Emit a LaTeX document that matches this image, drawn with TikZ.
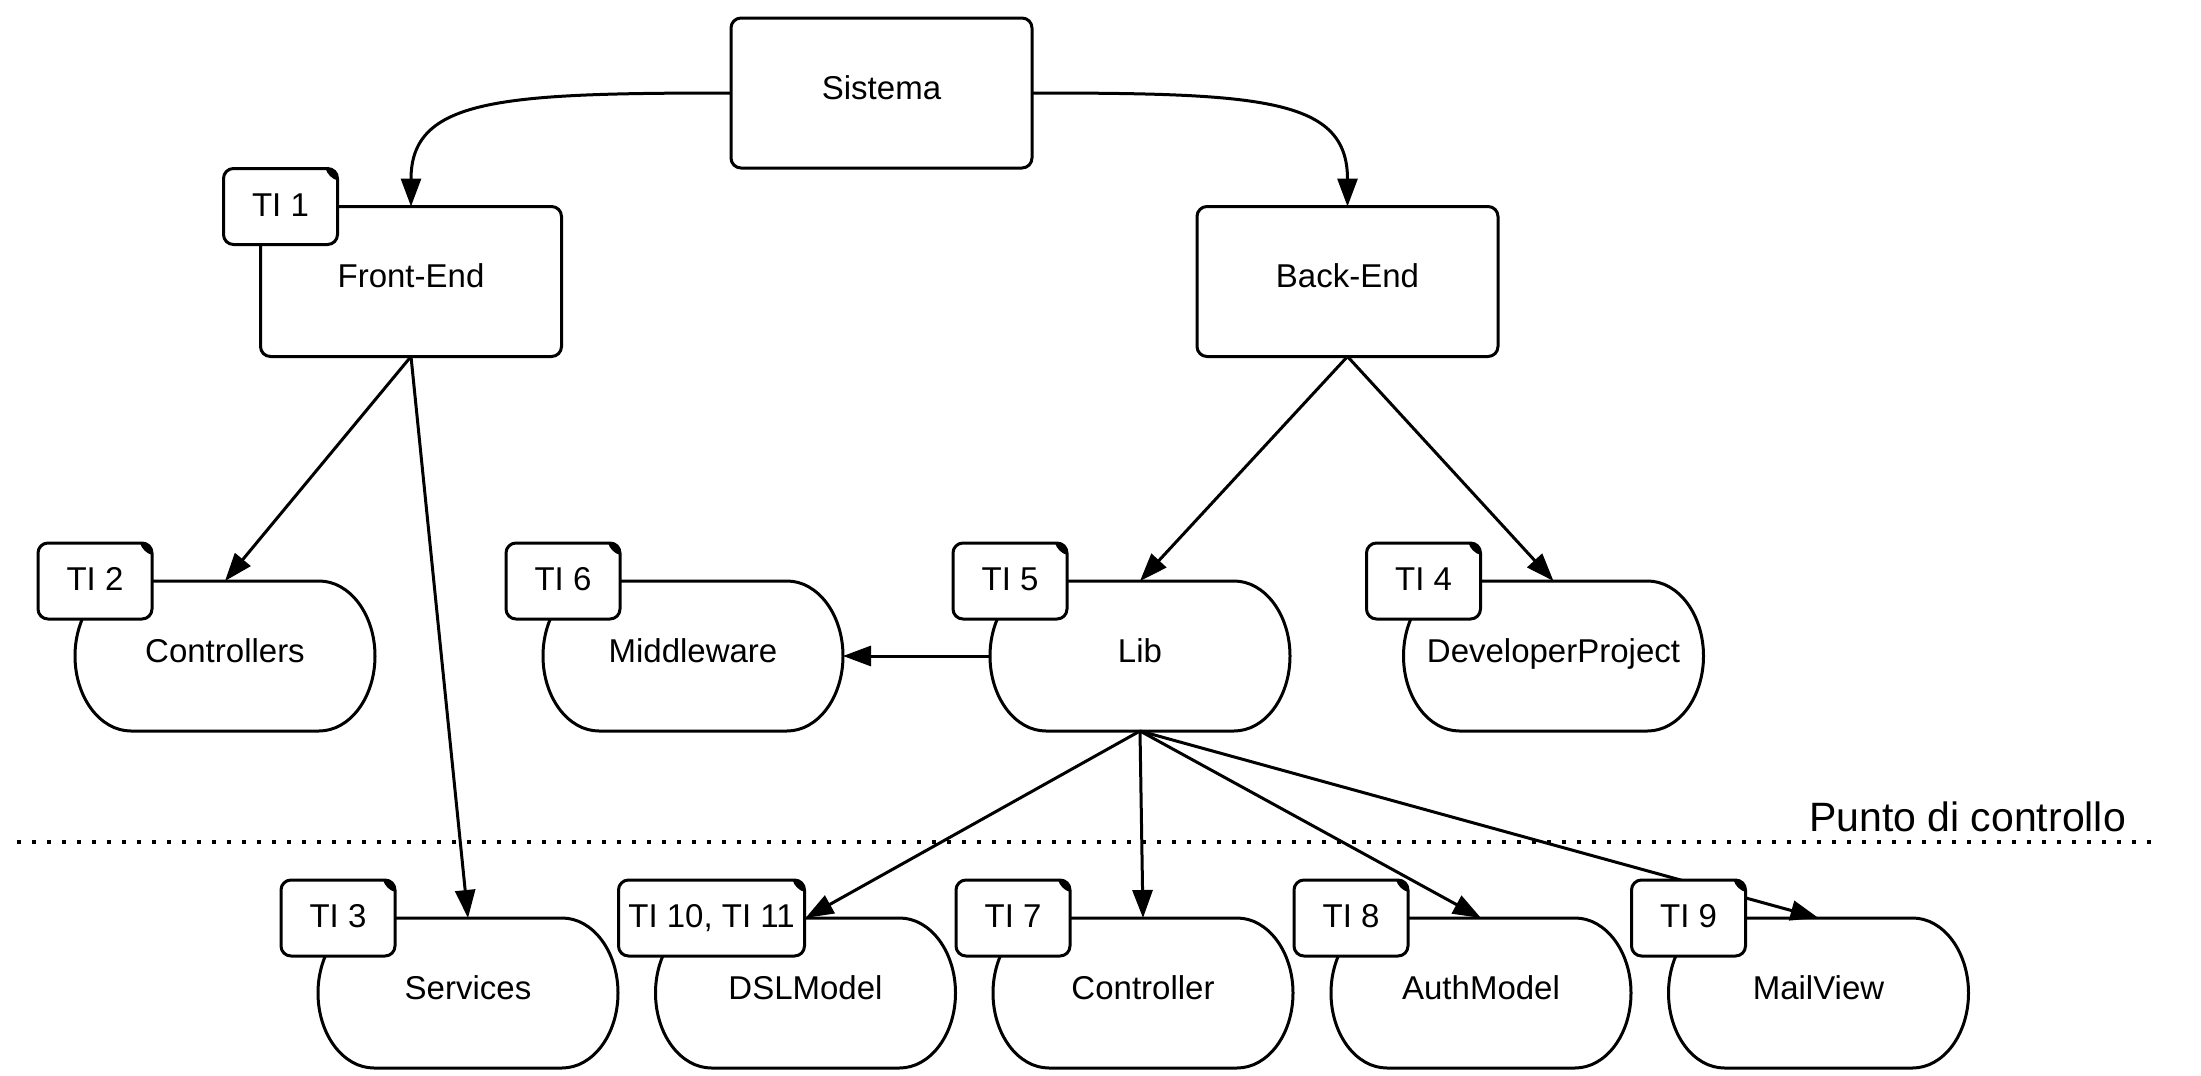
\documentclass[tikz,border=0pt]{standalone}
\usepackage{fontspec}
\setmainfont{Liberation Sans}
\usetikzlibrary{arrows.meta,calc}
\newcommand{\mainfs}{\fontsize{33}{40}\selectfont}
\newcommand{\drumpath}[1]{%
  \draw[lw] ($(#1.north west)+(56,0)$) -- ($(#1.north east)+(-56,0)$)
    .. controls +(30.9,0) and +(0,-41.4) .. (#1.east)
    .. controls +(0,41.4) and +(30.9,0) .. ($(#1.south east)+(-56,0)$)
    -- ($(#1.south west)+(56,0)$)
    .. controls +(-30.9,0) and +(0,41.4) .. (#1.west)
    .. controls +(0,-41.4) and +(-30.9,0) .. ($(#1.north west)+(56,0)$) -- cycle;}
\newcommand{\foldmark}[1]{%
  \fill ($(#1.north east)+(-12,0)$) -- ($(#1.north east)+(-10,0)$)
   .. controls +(5.52,0) and +(0,-5.52) .. ($(#1.north east)+(0,10)$)
   -- ($(#1.north east)+(0,12)$)
   .. controls +(-6,-2) and +(2,6) .. ($(#1.north east)+(-12,0)$) -- cycle;}
\tikzset{
  lw/.style={line width=3pt},
  rectbox/.style={draw, lw, fill=white, rounded corners=10pt, minimum width=301pt,
    minimum height=150pt, inner sep=0pt, outer sep=0pt, font=\mainfs,
    text height=22pt, text depth=10pt},
  drumnode/.style={minimum width=300pt, minimum height=150pt, inner sep=0pt,
    outer sep=0pt, font=\mainfs, text height=22pt, text depth=10pt},
  tabbox/.style={draw, lw, fill=white, rounded corners=10pt, minimum width=114pt,
    minimum height=76pt, inner sep=0pt, outer sep=0pt, font=\mainfs,
    text height=25pt, text depth=6pt, anchor=west},
  conn/.style={lw, -{Triangle[length=28pt,width=20pt]}},
  dotline/.style={line width=3.5pt, dash pattern=on 3.5pt off 11.5pt},
}
\begin{document}
\begin{tikzpicture}[x=1pt,y=-1pt]
\useasboundingbox[fill=white] (0,0) rectangle (2201,1076);

% main boxes
\node[rectbox] (sis) at (881.5,93) {Sistema};
\node[rectbox] (fe) at (411,281.5) {Front-End};
\node[rectbox] (be) at (1347.5,281.5) {Back-End};

% drum shapes
\node[drumnode] (ctrls) at (225,656) {Controllers};
\node[drumnode] (mw) at (693,656) {Middleware};
\node[drumnode] (lib) at (1140,656) {Lib};
\node[drumnode] (dev) at (1553.5,656) {DeveloperProject};
\node[drumnode] (srv) at (468,993) {Services};
\node[drumnode] (dsl) at (805.5,993) {DSLModel};
\node[drumnode] (ctrl) at (1143,993) {Controller};
\node[drumnode] (auth) at (1481,993) {AuthModel};
\node[drumnode] (mail) at (1818.5,993) {MailView};
\foreach \n in {ctrls,mw,lib,dev,srv,dsl,ctrl,auth,mail} {\drumpath{\n}}

% dotted checkpoint line
\coordinate (dl) at (17,842);
\coordinate (dr) at (2153,842);
\draw[dotline] (dl) -- (dr);
\node[anchor=base, font=\fontsize{41}{49}\selectfont, inner sep=0pt] (pdc) at (1967.5,831) {Punto di controllo};

% connectors
\draw[conn] (sis.west) .. controls +(-231,0) and +(0,-108) .. (fe.north);
\draw[conn] (sis.east) .. controls +(231,0) and +(0,-108) .. (be.north);
\draw[conn] (fe.south) -- (ctrls.north);
\draw[conn] (fe.south) -- (srv.north);
\draw[conn] (be.south) -- (lib.north);
\draw[conn] (be.south) -- (dev.north);
\draw[conn] (lib.west) -- (mw.east);
\draw[conn] (lib.south) -- (dsl.north);
\draw[conn] (lib.south) -- (ctrl.north);
\draw[conn] (lib.south) -- (auth.north);
\draw[conn] (lib.south) -- (mail.north);

% tabs
\node[tabbox] (t1) at ($(fe.north west)+(-37,0)$) {TI 1};
\node[tabbox] (t2) at ($(ctrls.north west)+(-37,0)$) {TI 2};
\node[tabbox] (t6) at ($(mw.north west)+(-37,0)$) {TI 6};
\node[tabbox] (t5) at ($(lib.north west)+(-37,0)$) {TI 5};
\node[tabbox] (t4) at ($(dev.north west)+(-37,0)$) {TI 4};
\node[tabbox] (t3) at ($(srv.north west)+(-37,0)$) {TI 3};
\node[tabbox, minimum width=186pt] (t10) at ($(dsl.north west)+(-37,0)$) {TI 10, TI 11};
\node[tabbox] (t7) at ($(ctrl.north west)+(-37,0)$) {TI 7};
\node[tabbox] (t8) at ($(auth.north west)+(-37,0)$) {TI 8};
\node[tabbox] (t9) at ($(mail.north west)+(-37,0)$) {TI 9};
\foreach \t in {t1,t2,t6,t5,t4,t3,t10,t7,t8,t9} {\foldmark{\t}}
\end{tikzpicture}
\end{document}
